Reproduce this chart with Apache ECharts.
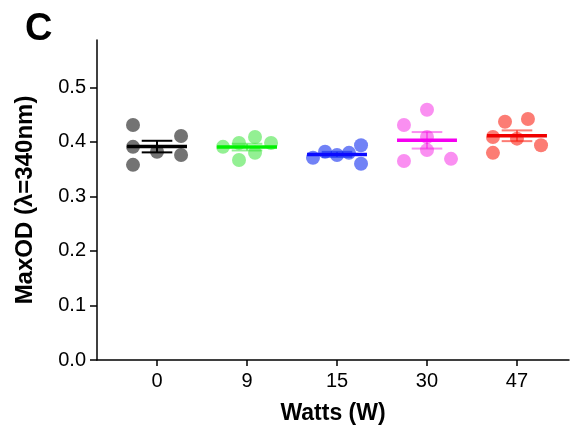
<!DOCTYPE html>
<html>
<head>
<meta charset="utf-8">
<script src="https://cdn.jsdelivr.net/npm/echarts@6/dist/echarts.min.js"></script>
<style>html,body{margin:0;padding:0;background:#fff}#c{width:572px;height:429px}</style>
</head>
<body>
<div id="c"></div>
<script>
// ---- data ----
const categories = ['0', '9', '15', '30', '47'];
const values0 = [0.431, 0.391, 0.358, 0.382, 0.411, 0.376];
const values9 = [0.391, 0.398, 0.367, 0.409, 0.380, 0.398];
const values15 = [0.371, 0.382, 0.376, 0.380, 0.394, 0.360];
const values30 = [0.431, 0.459, 0.409, 0.385, 0.365, 0.369];
const values47 = [0.409, 0.437, 0.442, 0.406, 0.380, 0.394];
// horizontal swarm placement of each dot within its category (category units)
const jitter0 = [-0.267, -0.267, -0.267, 0, 0.267, 0.267];
const jitter9 = [-0.267, -0.089, -0.089, 0.089, 0.089, 0.267];
const jitter15 = [-0.267, -0.133, 0, 0.133, 0.267, 0.267];
const jitter30 = [-0.256, 0, 0, 0, -0.256, 0.267];
const jitter47 = [-0.267, -0.133, 0.122, 0, -0.267, 0.267];
const yTicks = [0, 0.1, 0.2, 0.3, 0.4, 0.5];

const groups = [values0, values9, values15, values30, values47];
const jitters = [jitter0, jitter9, jitter15, jitter30, jitter47];
const pointColors = ['rgba(90,90,90,0.85)', 'rgba(40,225,40,0.5)', 'rgba(10,40,240,0.58)', 'rgba(245,20,225,0.48)', 'rgba(250,30,15,0.58)'];
const lineColors = ['#000000', '#00f000', '#0a0aff', '#f500f0', '#f00000'];
const errColors = ['#000000', 'rgba(40,225,40,0.5)', 'rgba(10,40,240,0.58)', 'rgba(245,20,225,0.48)', 'rgba(250,30,15,0.58)'];

function mean(a) { return a.reduce((s, v) => s + v, 0) / a.length; }
function sem(a) {
  const m = mean(a);
  const sd = Math.sqrt(a.reduce((s, v) => s + (v - m) * (v - m), 0) / (a.length - 1));
  return sd / Math.sqrt(a.length);
}

const font = '"Liberation Sans", Arial, Helvetica, sans-serif';
const series = [];
groups.forEach((vals, gi) => {
  series.push({
    type: 'scatter',
    symbol: 'circle',
    symbolSize: 14,
    itemStyle: { color: pointColors[gi], opacity: 1 },
    z: 2,
    silent: true,
    data: vals.map((v, k) => [gi + jitters[gi][k], v])
  });
  const m = mean(vals), s = sem(vals);
  series.push({
    type: 'custom',
    z: 3,
    silent: true,
    data: [[gi, m, s]],
    renderItem: function (params, api) {
      const x = api.value(0), mm = api.value(1), ss = api.value(2);
      const a = api.coord([x - 0.333, mm]);
      const b = api.coord([x + 0.333, mm]);
      const top = api.coord([x, mm + ss]);
      const bot = api.coord([x, mm - ss]);
      const capL = api.coord([x - 0.17, 0])[0];
      const capR = api.coord([x + 0.17, 0])[0];
      const es = { stroke: errColors[gi], lineWidth: 2, fill: null };
      return {
        type: 'group',
        children: [
          { type: 'line', shape: { x1: top[0], y1: top[1], x2: bot[0], y2: bot[1] }, style: es },
          { type: 'line', shape: { x1: capL, y1: top[1], x2: capR, y2: top[1] }, style: es },
          { type: 'line', shape: { x1: capL, y1: bot[1], x2: capR, y2: bot[1] }, style: es },
          { type: 'line', shape: { x1: a[0], y1: a[1], x2: b[0], y2: b[1] }, style: { stroke: lineColors[gi], lineWidth: 3.5 } }
        ]
      };
    }
  });
});

const chart = echarts.init(document.getElementById('c'), null, { renderer: 'canvas' });
chart.setOption({
  animation: false,
  backgroundColor: '#ffffff',
  title: {
    text: 'C', left: 20, top: 6,
    textStyle: { fontFamily: font, fontWeight: 'bold', fontSize: 38, color: '#000' }
  },
  grid: { left: 97, top: 40, right: 3, bottom: 69, containLabel: false, outerBoundsMode: 'none' },
  xAxis: {
    type: 'value',
    min: -0.667, max: 4.578,
    name: 'Watts (W)',
    nameLocation: 'middle',
    nameGap: 42,
    nameTextStyle: { fontFamily: font, fontWeight: 'bold', fontSize: 23, color: '#000' },
    splitLine: { show: false },
    axisLine: { onZero: false, lineStyle: { color: '#000', width: 1.5 } },
    axisTick: { show: true, length: 6, lineStyle: { color: '#000', width: 1.5 }, customValues: [0, 1, 2, 3, 4] },
    axisLabel: {
      customValues: [0, 1, 2, 3, 4],
      formatter: v => categories[Math.round(v)],
      fontFamily: font, fontSize: 20, color: '#000', margin: 11
    }
  },
  yAxis: {
    type: 'value',
    min: 0, max: 0.587,
    name: 'MaxOD (λ=340nm)',
    nameLocation: 'middle',
    nameGap: 60,
    nameTextStyle: { fontFamily: font, fontWeight: 'bold', fontSize: 24, color: '#000' },
    splitLine: { show: false },
    axisLine: { show: true, onZero: false, lineStyle: { color: '#000', width: 1.5 } },
    axisTick: { show: true, length: 7, lineStyle: { color: '#000', width: 1.5 }, customValues: yTicks },
    axisLabel: {
      customValues: yTicks,
      formatter: v => v.toFixed(1),
      fontFamily: font, fontSize: 20, color: '#000', margin: 11
    }
  },
  series: series
});
</script>
</body>
</html>
